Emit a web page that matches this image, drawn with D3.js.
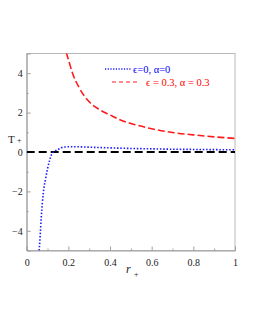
<!DOCTYPE html>
<html><head><meta charset="utf-8">
<script src="https://cdn.jsdelivr.net/npm/d3@7"></script>
<style>body{margin:0;background:#fff}svg{display:block}</style>
</head><body>
<script>
const xTicks = [0, 0.2, 0.4, 0.6, 0.8, 1];
const yTicks = [-4, -2, 0, 2, 4];
const blueR = [0.06, 0.065, 0.07, 0.075, 0.08, 0.09, 0.1, 0.11, 0.12, 0.128, 0.14, 0.152, 0.165, 0.18, 0.22, 0.25, 0.3, 0.4, 0.5, 0.6, 0.7, 0.8, 0.9, 1.0];
const blueT = [-5, -4.2, -3.3, -2.6, -2.05, -1.4, -0.85, -0.42, -0.12, 0, 0.08, 0.14, 0.21, 0.25, 0.27, 0.265, 0.245, 0.21, 0.18, 0.16, 0.14, 0.13, 0.12, 0.11];
const redR = [0.19, 0.2, 0.22, 0.25, 0.3, 0.35, 0.4, 0.45, 0.5, 0.6, 0.7, 0.8, 0.9, 1.0];
const redT = [5.05, 4.7, 4.0, 3.3, 2.55, 2.15, 1.88, 1.62, 1.45, 1.18, 0.99, 0.87, 0.77, 0.69];
const zeroR = [0, 1];
const zeroT = [0, 0];
const legendLabels = ["ϵ=0, α=0", "ϵ = 0.3, α = 0.3"];

const W = 255, H = 330;
const svg = d3.select("body").append("svg").attr("width", W).attr("height", H);
const x = d3.scaleLinear().domain([0, 1]).range([26.7, 235]);
const y = d3.scaleLinear().domain([-5, 5]).range([250.5, 53.5]);
const font = "Liberation Serif";
const gray = "#a0a0a0";

svg.append("defs").append("clipPath").attr("id", "clip")
  .append("rect").attr("x", x(0)).attr("y", y(5)).attr("width", x(1) - x(0)).attr("height", y(-5) - y(5));

// frame
svg.append("rect").attr("x", x(0)).attr("y", y(5)).attr("width", x(1) - x(0)).attr("height", y(-5) - y(5))
  .attr("fill", "none").attr("stroke", "#b8b8b8").attr("stroke-width", 1);

// bottom axis
const xAxis = d3.axisBottom(x).tickValues(xTicks).tickFormat(d => d === 0 ? "0" : (d === 1 ? "1" : d3.format(".1f")(d))).tickSize(-4).tickPadding(8);
const gx = svg.append("g").attr("transform", `translate(0,${y(-5)})`).call(xAxis).attr("font-family", font);
gx.select(".domain").attr("stroke", gray);
gx.selectAll(".tick line").attr("stroke", gray);
gx.selectAll("text").style("font-family", font).attr("font-size", 10).attr("fill", "#222");
const gxm = svg.append("g").attr("transform", `translate(0,${y(-5)})`)
  .call(d3.axisBottom(x).tickValues(d3.range(0.1, 1, 0.2)).tickSize(-2).tickFormat(""));
gxm.select(".domain").remove();
gxm.selectAll(".tick line").attr("stroke", gray);

// left axis
const yAxis = d3.axisLeft(y).tickValues(yTicks).tickFormat(d => d < 0 ? "−" + Math.abs(d) : d).tickSize(-4).tickPadding(4);
const gy = svg.append("g").attr("transform", `translate(${x(0)},0)`).call(yAxis).attr("font-family", font);
gy.select(".domain").attr("stroke", gray);
gy.selectAll(".tick line").attr("stroke", gray);
gy.selectAll("text").style("font-family", font).attr("font-size", 10).attr("fill", "#222");
const gym = svg.append("g").attr("transform", `translate(${x(0)},0)`)
  .call(d3.axisLeft(y).tickValues([-3, -1, 1, 3]).tickSize(-2).tickFormat(""));
gym.select(".domain").remove();
gym.selectAll(".tick line").attr("stroke", gray);

const line = d3.line().x(d => x(d[0])).y(d => y(d[1])).curve(d3.curveMonotoneX);
const plot = svg.append("g").attr("clip-path", "url(#clip)");

plot.append("path").datum(zeroR.map((r, i) => [r, zeroT[i]])).attr("d", line)
  .attr("fill", "none").attr("stroke", "#000").attr("stroke-width", 2).attr("stroke-dasharray", "8,4");
plot.append("path").datum(redR.map((r, i) => [r, redT[i]])).attr("d", line)
  .attr("fill", "none").attr("stroke", "#ff1a1a").attr("stroke-width", 1.6).attr("stroke-dasharray", "7,3");
plot.append("path").datum(blueR.map((r, i) => [r, blueT[i]])).attr("d", line)
  .attr("fill", "none").attr("stroke", "#1a1aff").attr("stroke-width", 1.6).attr("stroke-dasharray", "1.5,1.8");

// legend
svg.append("line").attr("x1", 105).attr("x2", 131).attr("y1", 69).attr("y2", 69)
  .attr("stroke", "#1a1aff").attr("stroke-width", 1.3).attr("stroke-dasharray", "1.2,1.5");
svg.append("text").attr("x", 133).attr("y", 72.5).style("font-family", font).attr("font-size", 10.5)
  .attr("fill", "#0000ff").text(legendLabels[0]);
svg.append("line").attr("x1", 112).attr("x2", 140).attr("y1", 82).attr("y2", 82)
  .attr("stroke", "#ff1a1a").attr("stroke-width", 1).attr("stroke-dasharray", "4,3");
svg.append("text").attr("x", 146).attr("y", 85.5).style("font-family", font).attr("font-size", 10.5)
  .attr("fill", "#ff0000").text(legendLabels[1]);

// axis labels
svg.append("text").attr("x", 8).attr("y", 143).style("font-family", font).attr("font-size", 11).attr("fill", "#222").text("T");
svg.append("text").attr("x", 17).attr("y", 143).style("font-family", font).attr("font-size", 8).attr("fill", "#222").text("+");
svg.append("text").attr("x", 126).attr("y", 273).style("font-family", font).attr("font-style", "italic").attr("font-size", 12).attr("fill", "#222").text("r");
svg.append("text").attr("x", 134).attr("y", 277).style("font-family", font).attr("font-size", 8).attr("fill", "#222").text("+");
</script>
</body></html>
